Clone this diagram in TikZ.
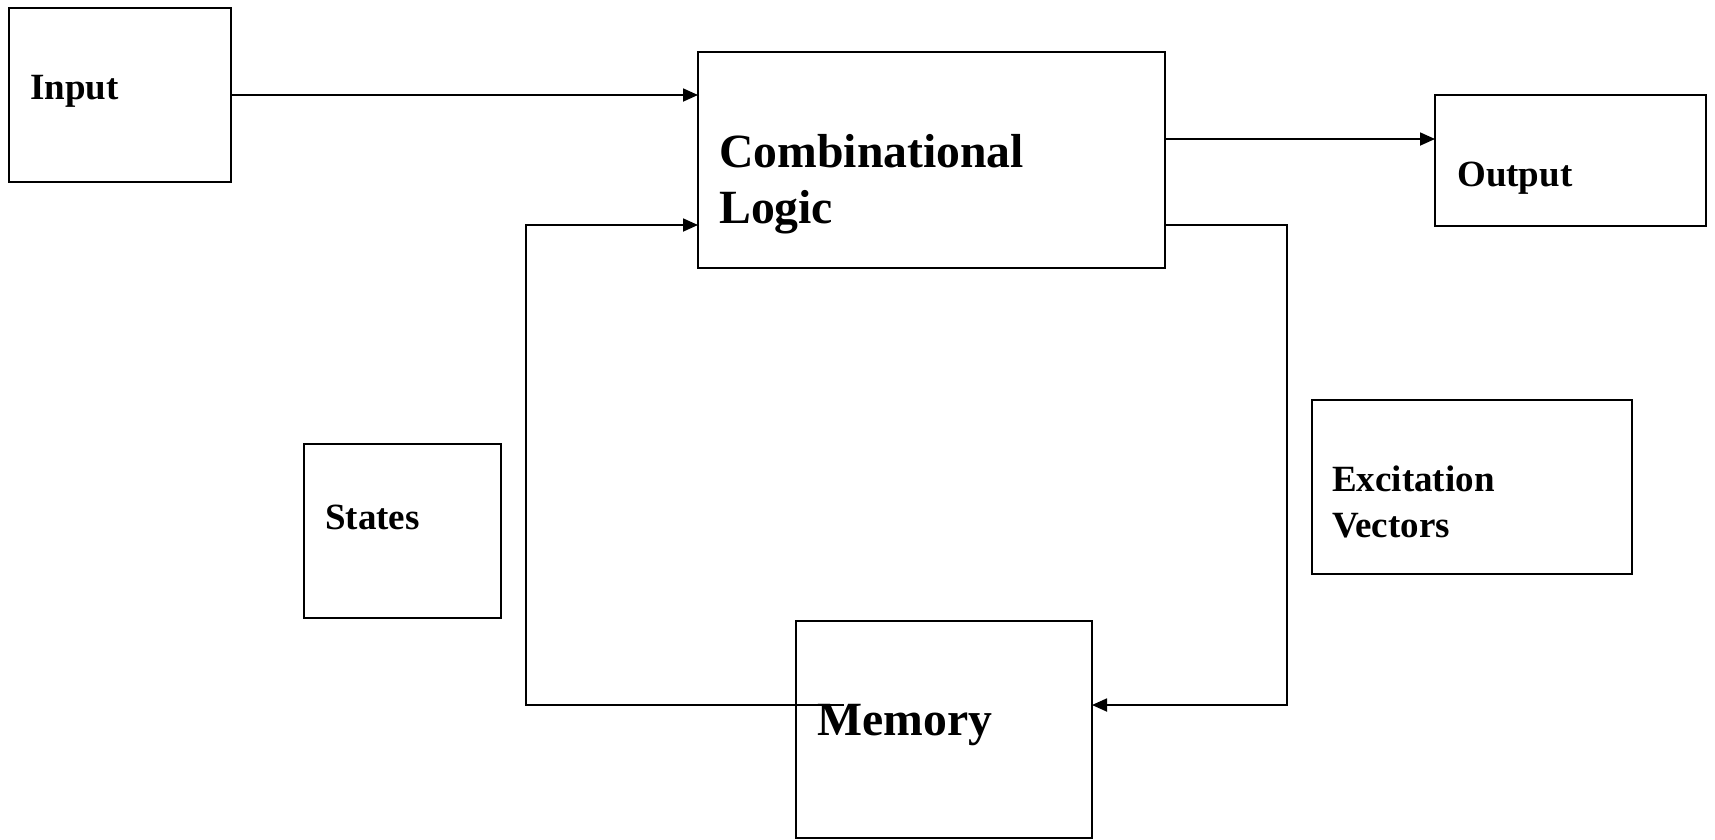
\documentclass[tikz,border=0pt]{standalone}
\usepackage{fontspec}
\setmainfont{Liberation Serif}
\usetikzlibrary{arrows.meta}
\begin{document}
\begin{tikzpicture}[x=1pt,y=-1pt,
  blk/.style={draw,line width=1.8pt,inner sep=0pt,outer sep=0pt,anchor=north west},
  lbl/.style={anchor=base west,inner sep=0pt,font=\fontsize{37}{45}\selectfont\bfseries},
  biglbl/.style={anchor=base west,inner sep=0pt,font=\fontsize{47.7}{57}\selectfont\bfseries},
  wire/.style={line width=1.8pt},
  arr/.style={wire,-{Triangle[length=15pt,width=13pt]}}]
\useasboundingbox (0,0) rectangle (1715,839);
% boxes
\node[blk,minimum width=222pt,minimum height=174pt] (input) at (9,8) {};
\node[blk,minimum width=467pt,minimum height=216pt] (comb) at (698,52) {};
\node[blk,minimum width=271pt,minimum height=131pt] (output) at (1435,95) {};
\node[blk,minimum width=197pt,minimum height=174pt] (states) at (304,444) {};
\node[blk,minimum width=320pt,minimum height=174pt] (excit) at (1312,400) {};
\node[blk,minimum width=296pt,minimum height=217pt] (memory) at (796,621) {};
% connectors
\coordinate (memin) at (844,705);
\draw[arr] (input.east) -- (comb.west |- input.east);
\draw[arr] (comb.east |- 0,139) -- (output.west |- 0,139);
\draw[arr] (comb.east |- 0,225) -- (1287,225) -- (1287,705) -- (memory.east |- 0,705);
\draw[arr] (memin) -- (526,705) -- (526,225) -- (comb.west |- 0,225);
% labels
\node[lbl] (inputtext) at (30,99) {Input};
\node[biglbl] (combtext1) at (719,167) {Combinational};
\node[biglbl] (combtext2) at (719,223) {Logic};
\node[lbl] (outputtext) at (1457,186) {Output};
\node[lbl] (statestext) at (325,529) {States};
\node[lbl] (excittext1) at (1332,491) {Excitation};
\node[lbl] (excittext2) at (1332,537) {Vectors};
\node[biglbl] (memorytext) at (817,735) {Memory};
\end{tikzpicture}
\end{document}
